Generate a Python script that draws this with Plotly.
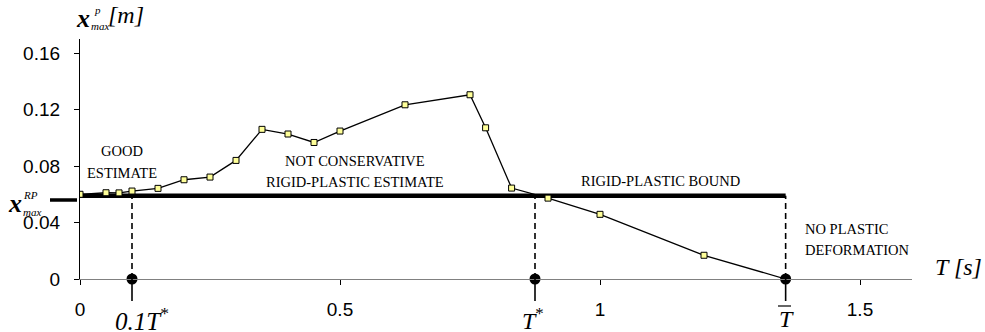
import plotly.graph_objects as go

# ---- data ----
T_values = [0, 0.05, 0.075, 0.1, 0.15, 0.2, 0.25, 0.3, 0.35, 0.4, 0.45, 0.5,
            0.625, 0.75, 0.78, 0.83, 0.9, 1.0, 1.2, 1.357]
x_max_p = [0.0600, 0.0611, 0.0610, 0.0623, 0.0642, 0.0703, 0.0722, 0.0840,
           0.1060, 0.1027, 0.0967, 0.1048, 0.1234, 0.1305, 0.1071, 0.0644,
           0.0573, 0.0458, 0.0168, 0.0]
x_rp = 0.059
T_marks = [0.1, 0.875, 1.357]          # 0.1T*, T*, T-bar
x_tickvals = [0, 0.5, 1, 1.5]
x_ticktext = ["0", "0.5", "1", "1.5"]
y_tickvals = [0, 0.04, 0.08, 0.12, 0.16]
y_ticktext = ["0", "0.04", "0.08", "0.12", "0.16"]
x_range = [0, 1.6]
y_range = [0, 0.17]

# ---- layout geometry ----
W, H = 985, 332
ML, MR, MT, MB = 80, 73, 39, 53
PW, PH = W - ML - MR, H - MT - MB


def px(p):
    return (p - ML) / PW


def py(p):
    return (H - MB - p) / PH


SERIF = "Liberation Serif"
SANS = "Liberation Sans"

fig = go.Figure()

fig.add_trace(go.Scatter(
    x=T_values, y=x_max_p, mode="lines+markers",
    line=dict(color="black", width=1.3),
    marker=dict(symbol="square", size=6, color="#ffff99",
                line=dict(color="black", width=1)),
    showlegend=False, hoverinfo="skip"))

fig.add_trace(go.Scatter(
    x=T_marks, y=[0] * len(T_marks), mode="markers",
    marker=dict(symbol="circle", size=11, color="black"),
    cliponaxis=False, showlegend=False, hoverinfo="skip"))

shapes = []
# rigid-plastic bound
shapes.append(dict(type="line", xref="x", yref="y", x0=0, x1=T_marks[2],
                   y0=x_rp, y1=x_rp, line=dict(color="black", width=4.5),
                   layer="below"))
# short marker to the left of the axis
shapes.append(dict(type="line", xref="paper", yref="paper", x0=px(50), x1=px(77),
                   y0=py(200), y1=py(200), line=dict(color="black", width=3.5)))
for t in T_marks:
    shapes.append(dict(type="line", xref="x", yref="y", x0=t, x1=t, y0=0, y1=x_rp,
                       line=dict(color="black", width=1.6, dash="6px,4px"),
                       layer="below"))
    shapes.append(dict(type="line", xref="x", yref="paper", x0=t, x1=t, y0=0,
                       y1=py(301), line=dict(color="black", width=1.6)))
# bar over T
shapes.append(dict(type="line", xref="paper", yref="paper", x0=px(778), x1=px(791),
                   y0=py(306), y1=py(306), line=dict(color="black", width=1.2)))

ann = []


def A(text, x, y, size, font=SERIF, xanchor="center", color="black"):
    ann.append(dict(text=text, x=px(x), y=py(y), xref="paper", yref="paper",
                    showarrow=False, xanchor=xanchor, yanchor="middle",
                    font=dict(family=font, size=size, color=color)))


A("GOOD", 122, 151, 14.5)
A("ESTIMATE", 122, 173, 14.5)
A("NOT CONSERVATIVE", 355, 161, 14.5)
A("RIGID-PLASTIC ESTIMATE", 355, 182, 14.5)
A("RIGID-PLASTIC BOUND", 660, 181, 14.5)
A("NO PLASTIC", 803, 229, 14.5, xanchor="left")
A("DEFORMATION", 803, 250, 14.5, xanchor="left")
A("<i>T [s]</i>", 933, 267, 24, xanchor="left")
# y-axis title
A("<b><i>x</i></b>", 83, 18, 26)
A("<i>p</i>", 97, 10, 11)
A("<i>max</i>", 100, 26, 11)
A("<i>[m]</i>", 126, 15, 24)
# x^RP_max
A("<b><i>x</i></b>", 15, 203, 26)
A("<i>RP</i>", 30, 195, 11)
A("<i>max</i>", 32, 212, 11)
# marks below axis
A("<i>0.1T</i><sup>*</sup>", 113, 319, 25, xanchor="left")
A("<i>T</i><sup>*</sup>", 520, 319, 24, xanchor="left")
A("<i>T</i>", 777, 319, 24, xanchor="left")

fig.update_layout(
    width=W, height=H, margin=dict(l=ML, r=MR, t=MT, b=MB, autoexpand=False),
    paper_bgcolor="white", plot_bgcolor="white",
    shapes=shapes, annotations=ann,
    xaxis=dict(range=x_range, tickvals=x_tickvals, ticktext=x_ticktext,
               showgrid=False, zeroline=False, showline=True, linecolor="#808080",
               linewidth=1.3, ticks="outside", ticklen=5, tickcolor="black",
               tickwidth=1, ticklabelstandoff=8, automargin=False,
               tickfont=dict(family=SANS, size=19, color="black")),
    yaxis=dict(range=y_range, tickvals=y_tickvals, ticktext=y_ticktext,
               showgrid=False, zeroline=False, showline=True, linecolor="black",
               linewidth=1.3, ticks="outside", ticklen=5, tickcolor="black",
               tickwidth=1, ticklabelstandoff=10, automargin=False,
               tickfont=dict(family=SANS, size=19, color="black")),
)

fig.write_html("out.html", config={"displayModeBar": False},
               post_script="document.body.style.margin='0';"
                           "document.body.style.padding='0';"
                           "document.body.style.overflow='hidden';")
